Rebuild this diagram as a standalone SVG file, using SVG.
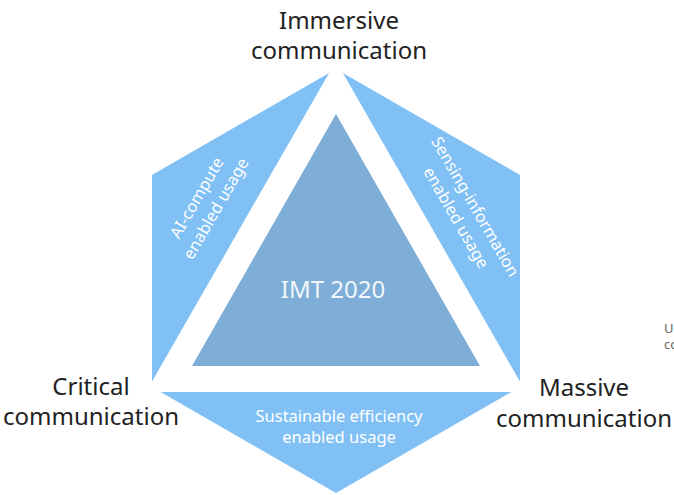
<svg xmlns="http://www.w3.org/2000/svg" width="674" height="495" viewBox="0 0 674 495">
  <style>
    .lbl { font-family: "Noto Sans", "Liberation Sans", sans-serif; font-size: 24px; fill: #222222; text-anchor: middle; }
    .inner { font-family: "Noto Sans", "Liberation Sans", sans-serif; font-size: 16.5px; fill: #ffffff; text-anchor: middle; }
    .core { font-family: "Noto Sans", "Liberation Sans", sans-serif; font-size: 24px; fill: #f2f6fa; text-anchor: middle; }
    .edge { font-family: "Noto Sans", "Liberation Sans", sans-serif; font-size: 13px; fill: #666666; }
  </style>
  <rect width="674" height="495" fill="#ffffff"/>
  <g id="hexagon">
    <polygon points="336,69 152,175 152,387 336,493 520,387 520,175" fill="#80c0f5"/>
    <polygon points="336,61 146,392 526,392" fill="#ffffff"/>
  </g>
  <g id="imt2020">
    <polygon points="336,114 192,366 480,366" fill="#7eaed7"/>
    <text class="core" x="333" y="298">IMT 2020</text>
  </g>
  <g id="ai-compute">
    <g transform="translate(206,203) rotate(-60)">
      <text class="inner" x="0" y="-5">AI-compute</text>
      <text class="inner" x="0" y="17">enabled usage</text>
    </g>
  </g>
  <g id="sensing">
    <g transform="translate(466,212) rotate(60)">
      <text class="inner" x="0" y="-5">Sensing-information</text>
      <text class="inner" x="0" y="17">enabled usage</text>
    </g>
  </g>
  <g id="sustainable">
    <text class="inner" x="339" y="422">Sustainable efficiency</text>
    <text class="inner" x="339" y="443">enabled usage</text>
  </g>
  <g id="immersive">
    <text class="lbl" x="339" y="29">Immersive</text>
    <text class="lbl" x="339" y="59">communication</text>
  </g>
  <g id="critical">
    <text class="lbl" x="91" y="395">Critical</text>
    <text class="lbl" x="91" y="425">communication</text>
  </g>
  <g id="massive">
    <text class="lbl" x="584" y="396">Massive</text>
    <text class="lbl" x="584" y="427">communication</text>
  </g>
  <g id="connectors"></g>
  <g id="edge-text">
    <text class="edge" x="664" y="333">U</text>
    <text class="edge" x="664" y="349">co</text>
  </g>
</svg>
